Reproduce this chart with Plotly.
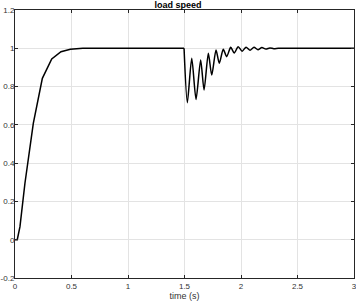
import plotly.graph_objects as go

# start-up part (sampled coarsely in the reference, drawn with straight segments)
rise_time = [0.0, 0.02, 0.044, 0.088, 0.162, 0.242, 0.325, 0.407, 0.49, 0.6, 1.0, 1.496]
rise_speed = [0.0, 0.0, 0.068, 0.295, 0.608, 0.843, 0.944, 0.982, 0.995, 1.0, 1.0, 1.0]

# load disturbance part (smooth oscillation)
dist_time = [1.496, 1.525, 1.564, 1.602, 1.643, 1.673, 1.711, 1.741, 1.779, 1.808, 1.843,
             1.873, 1.909, 1.94, 1.975, 2.01, 2.045, 2.08, 2.115, 2.15, 2.185, 2.22, 2.255,
             2.29, 2.33, 2.4, 3.0]
dist_speed = [1.0, 0.716, 0.948, 0.733, 0.939, 0.782, 0.974, 0.86, 0.991, 0.922, 0.995,
              0.956, 1.005, 0.975, 1.008, 0.985, 1.006, 0.99, 1.005, 0.993, 1.004, 0.996,
              1.002, 0.998, 1.0, 1.0, 1.0]

x_ticks = [0, 0.5, 1, 1.5, 2, 2.5, 3]
x_tick_labels = ["0", "0.5", "1", "1.5", "2", "2.5", "3"]
y_ticks = [-0.2, 0, 0.2, 0.4, 0.6, 0.8, 1, 1.2]
y_tick_labels = ["-0.2", "0", "0.2", "0.4", "0.6", "0.8", "1", "1.2"]

FONT = "Liberation Sans, Arial, sans-serif"

fig = go.Figure()
fig.add_trace(go.Scatter(x=rise_time, y=rise_speed, mode="lines",
                         line=dict(color="black", width=1.5),
                         showlegend=False, hoverinfo="skip"))
fig.add_trace(go.Scatter(x=dist_time, y=dist_speed, mode="lines",
                         line=dict(color="black", width=1.5, shape="spline", smoothing=0.7),
                         showlegend=False, hoverinfo="skip"))

axis_common = dict(showline=True, linecolor="#262626", linewidth=1, mirror="ticks",
                   ticks="inside", ticklen=3, tickcolor="#262626", showgrid=True,
                   gridcolor="#e3e3e3", gridwidth=1, zeroline=False,
                   tickfont=dict(family=FONT, size=8, color="#333333"),
                   automargin=False, ticklabeloverflow="allow")

fig.update_layout(
    width=356, height=302,
    margin=dict(l=15, r=2, t=10, b=24),
    paper_bgcolor="white", plot_bgcolor="white",
    title=dict(text="<b>load speed</b>", x=0.5, xanchor="center", y=0.984, yanchor="middle",
               font=dict(family=FONT, size=9, color="black")),
    xaxis=dict(range=[0, 3], tickvals=x_ticks, ticktext=x_tick_labels,
               title=dict(text="time (s)", standoff=1,
                          font=dict(family=FONT, size=9, color="#333333")),
               **axis_common),
    yaxis=dict(range=[-0.2, 1.2], tickvals=y_ticks, ticktext=y_tick_labels,
               ticklabelstandoff=-2, **axis_common),
)

fig.write_html("out.html")
